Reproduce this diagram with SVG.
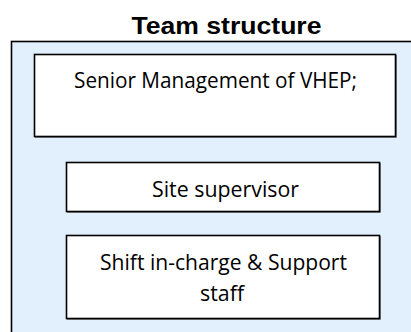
<svg xmlns="http://www.w3.org/2000/svg" width="411" height="332" viewBox="0 0 411 332">
  <defs>
    <style>
      .frame { fill: #E2EFFD; stroke: #000; stroke-width: 1.6; }
      .box { fill: #fff; stroke: #000; stroke-width: 1.6; }
      .shadow { fill: none; stroke: #8a8a8a; stroke-width: 1; }
      .title { font-family: "Liberation Sans", Arial, sans-serif; font-weight: bold; font-size: 23px; fill: #000; }
      .lbl { font-family: "Open Sans", "Liberation Sans", sans-serif; font-size: 21px; fill: #000; }
    </style>
  </defs>
  <rect width="411" height="332" fill="#fff"/>

  <text class="title" x="226.5" y="34" text-anchor="middle" textLength="190" lengthAdjust="spacingAndGlyphs">Team structure</text>

  <!-- enclosing panel, runs off the right and bottom edges -->
  <rect class="frame" x="11.5" y="41.5" width="420" height="310"/>

  <g id="senior-management">
    <path class="shadow" d="M396.5 55 V137.5 H35"/>
    <rect class="box" x="34.5" y="54.5" width="361" height="82"/>
    <text class="lbl" x="74" y="88" textLength="283" lengthAdjust="spacingAndGlyphs">Senior Management of VHEP;</text>
  </g>

  <g id="site-supervisor">
    <path class="shadow" d="M380.5 163 V212.5 H67"/>
    <rect class="box" x="66.5" y="162.5" width="313" height="49"/>
    <text class="lbl" x="225.5" y="197" text-anchor="middle" textLength="147" lengthAdjust="spacingAndGlyphs">Site supervisor</text>
  </g>

  <g id="shift-in-charge">
    <path class="shadow" d="M380.5 236 V319.5 H67"/>
    <rect class="box" x="66.5" y="235.5" width="313" height="83"/>
    <text class="lbl" x="223.5" y="270" text-anchor="middle" textLength="247" lengthAdjust="spacingAndGlyphs">Shift in-charge &amp; Support</text>
    <text class="lbl" x="222" y="301" text-anchor="middle" textLength="44" lengthAdjust="spacingAndGlyphs">staff</text>
  </g>

  <g id="connectors"/>
</svg>
